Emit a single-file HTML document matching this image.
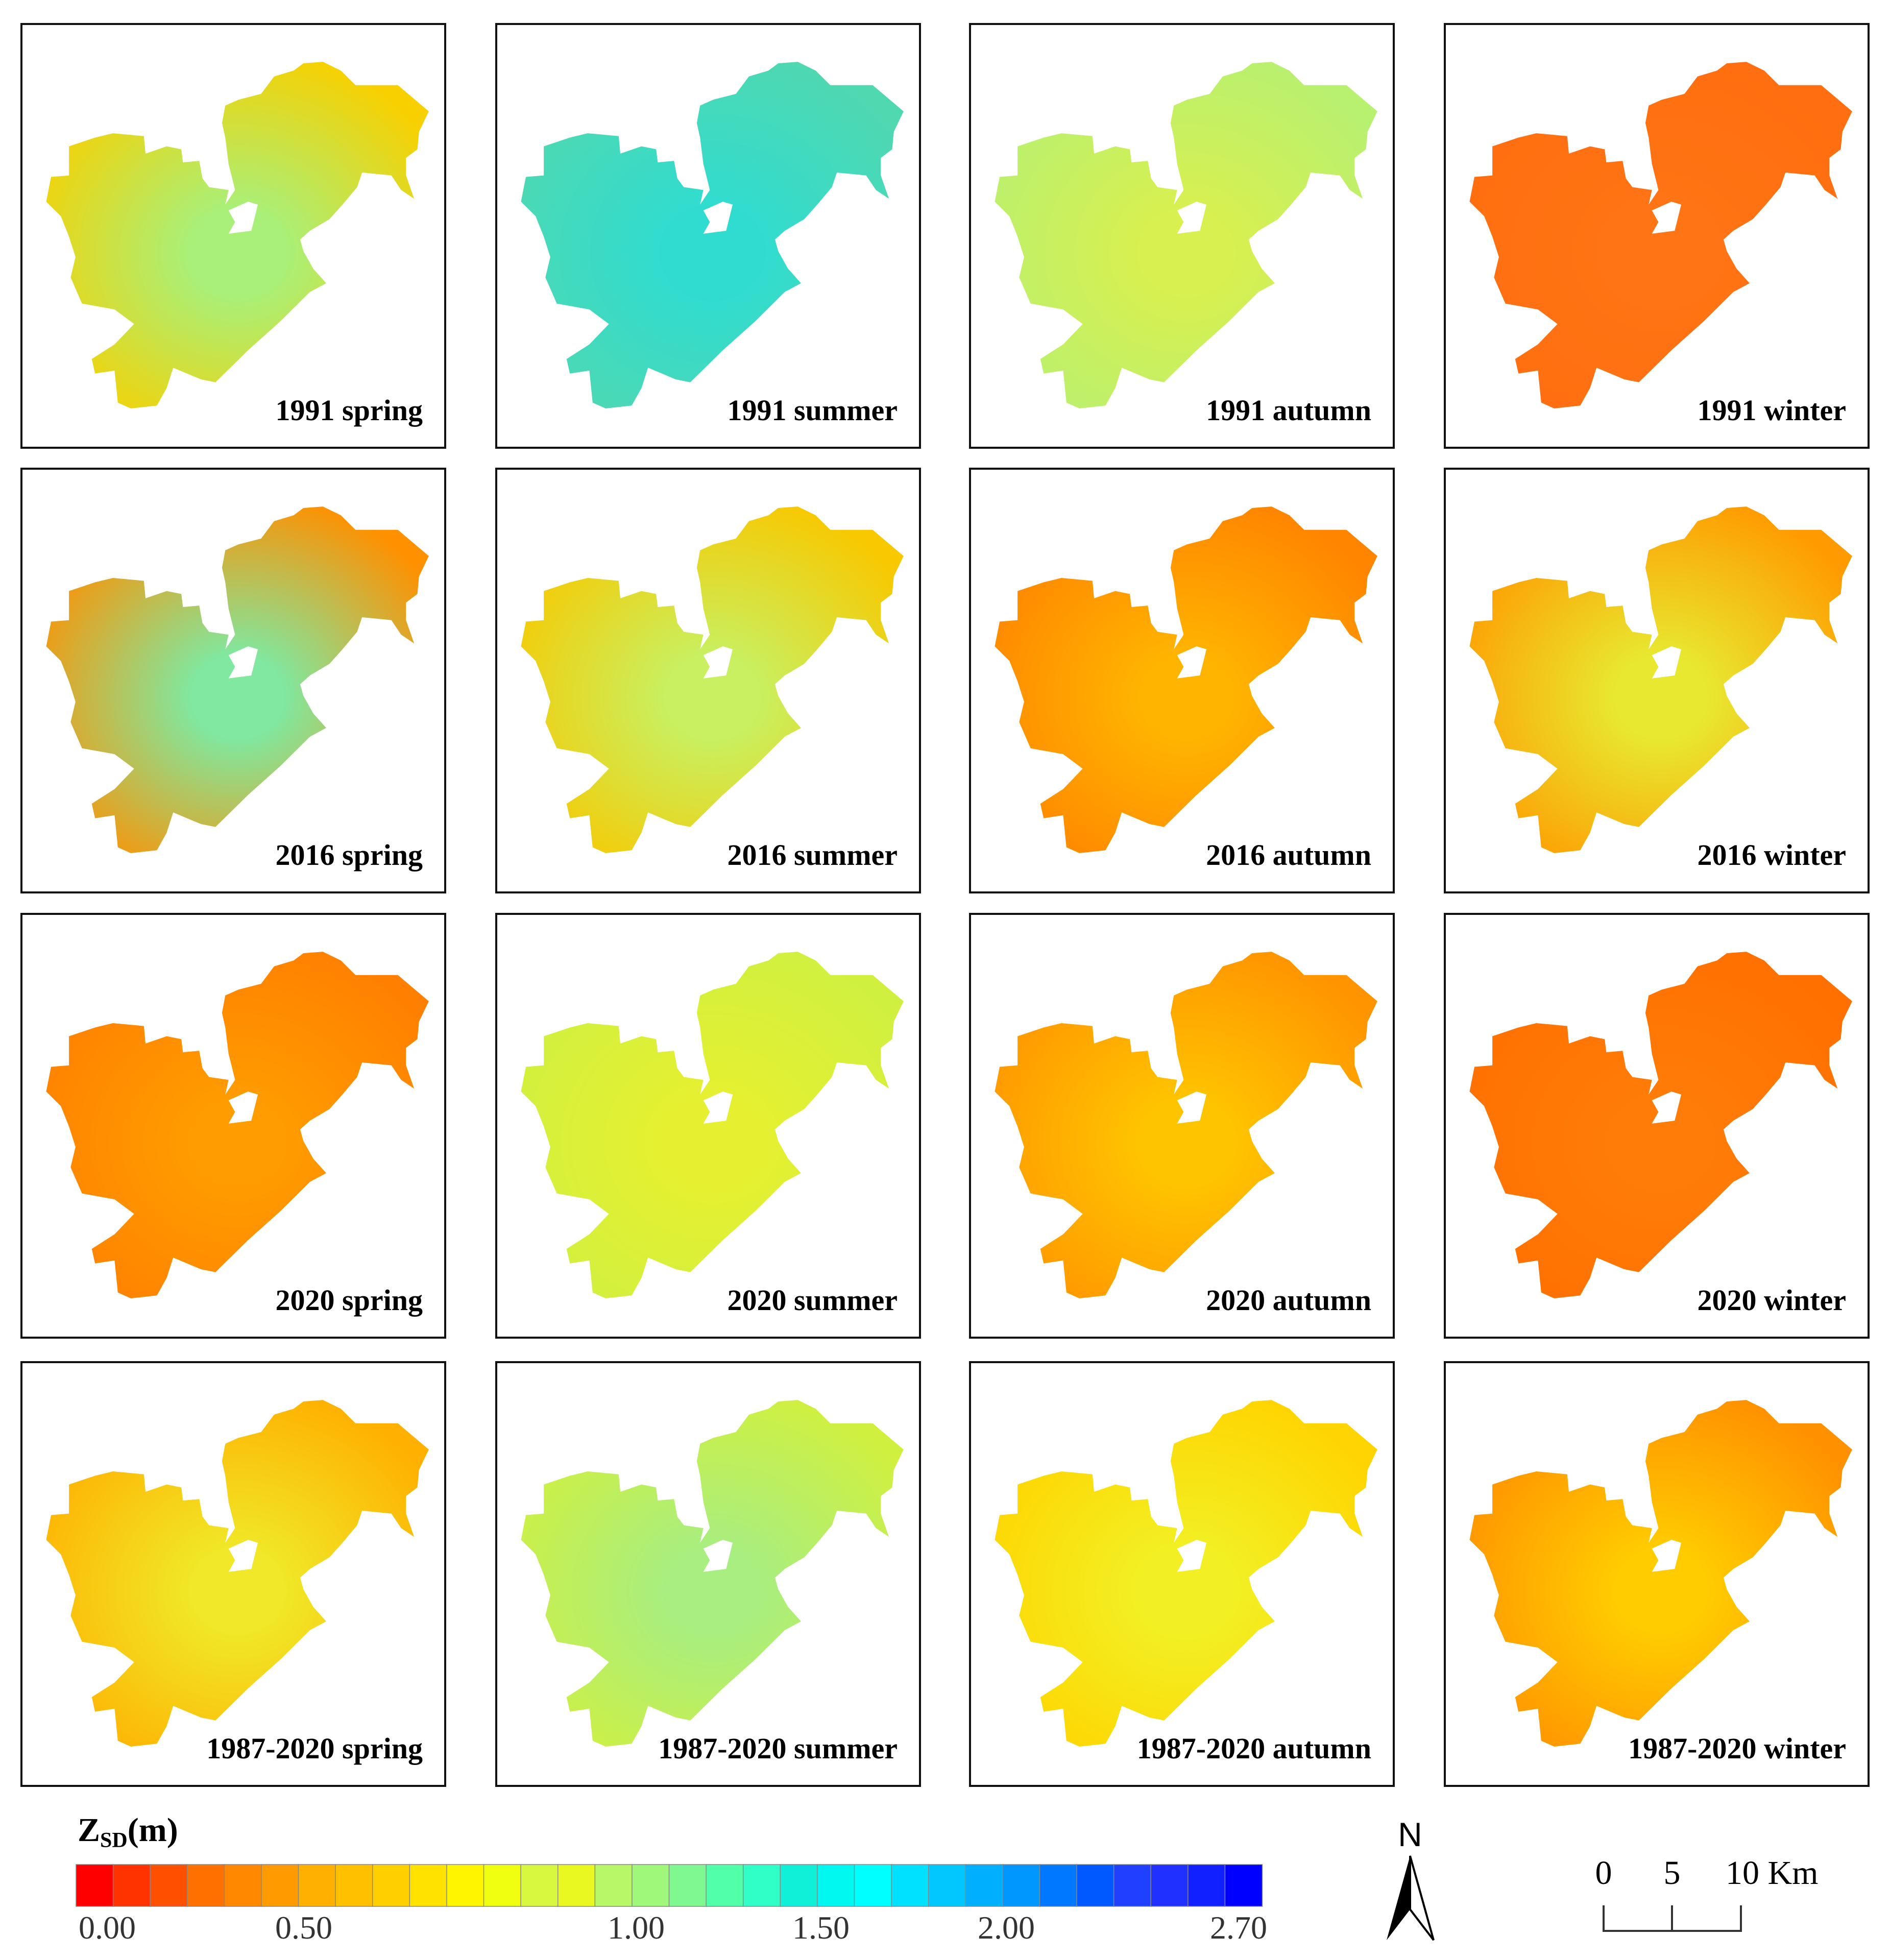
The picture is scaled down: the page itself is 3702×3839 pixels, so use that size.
<!DOCTYPE html>
<html><head><meta charset="utf-8">
<style>
html,body{margin:0;padding:0;background:#fff;}
body{width:3702px;height:3839px;overflow:hidden;position:relative;font-family:"Liberation Serif",serif;}
svg{position:absolute;left:0;top:0;}
</style></head>
<body>
<svg id="fig" width="3702" height="3839" viewBox="0 0 3702 3839">
<defs id="defs"></defs>
<g id="panels"></g>
<g id="legend"></g>
<g>
  <text x="2762" y="3616" font-size="66" text-anchor="middle" font-family="Liberation Sans, sans-serif">N</text>
  <polygon points="2762,3635 2716,3800 2762,3740" fill="#000"/>
  <polygon points="2762,3635 2808,3800 2762,3740" fill="#fff" stroke="#000" stroke-width="4"/>
</g>
<g font-size="66">
  <text x="3141" y="3690" text-anchor="middle">0</text>
  <text x="3275" y="3690" text-anchor="middle">5</text>
  <text x="3380" y="3690">10 Km</text>
  <path d="M3141 3732 V3782 H3410 V3732 M3275 3732 V3782" fill="none" stroke="#333" stroke-width="4"/>
</g>
</svg>
<script>
const NS="http://www.w3.org/2000/svg";
// panel data
const panelLabels=["1991 spring","1991 summer","1991 autumn","1991 winter",
"2016 spring","2016 summer","2016 autumn","2016 winter",
"2020 spring","2020 summer","2020 autumn","2020 winter",
"1987-2020 spring","1987-2020 summer","1987-2020 autumn","1987-2020 winter"];
const panelCenterColors=["#a8f07a","#30dcd0","#d8f050","#ff7414",
"#80e8a0","#c8f060","#ffb400","#e8e830",
"#ff9c00","#e6f030","#ffc400","#ff7c08",
"#f0e828","#a8ee80","#f2f024","#ffcc00"];
const panelEdgeColors=["#f8d000","#50d8b0","#b8f070","#ff6e10",
"#ff9000","#f8c800","#ff8400","#ff9a00",
"#ff8000","#d0f040","#ff9400","#ff7000",
"#ffb000","#d0f040","#ffd400","#ff9000"];
const colX=[42,972,1900,2830];
const rowY=[47,918,1790,2668];
// colorbar data
const cbarColors=["#ff0000","#ff3300","#ff5000","#ff7000","#ff8800","#ff9b00","#ffb000","#ffc000","#ffd000","#ffe200","#fff500","#f0ff10","#d8f840","#e8f820","#b8f868","#a0f87a","#80f890","#50ffa8","#30ffc8","#10f0d8","#00f8f0","#00ffff","#00e0ff","#00c8ff","#00b0ff","#0098ff","#0078ff","#0058ff","#2040ff","#2030ff","#1020ff","#0000ff"];
const tickValues=[0,0.5,1.0,1.5,2.0,2.7];
const tickLabels=["0.00","0.50","1.00","1.50","2.00","2.70"];
const tickPx=[210,595,1246,1608,1971,2426];

const lakeD="M930 215 L990 210 L1045 240 L1090 290 L1220 290 L1315 380 L1285 450 L1280 510 L1245 540 L1245 600 L1270 680 L1230 650 L1200 600 L1110 590 L1095 640 L1050 700 L1010 750 L950 790 L920 820 L930 860 L960 920 L1000 970 L950 1000 L860 1100 L760 1200 L660 1310 L615 1300 L530 1260 L510 1330 L480 1390 L400 1400 L360 1380 L350 1270 L290 1280 L280 1230 L350 1180 L410 1110 L350 1060 L250 1040 L215 950 L230 880 L210 810 L185 740 L140 690 L155 605 L210 600 L210 500 L290 470 L345 455 L440 465 L445 525 L510 500 L555 510 L560 555 L610 550 L620 610 L640 640 L700 650 L690 700 L720 650 L700 560 L690 470 L680 420 L690 360 L730 340 L800 320 L840 260 L900 240 Z";
const holeD="M700 720 L760 690 L790 700 L770 790 L700 800 L720 760 Z";
const defs=document.getElementById('defs');
const pg=document.getElementById('panels');
panelLabels.forEach((lab,i)=>{
  const x=colX[i%4], y=rowY[Math.floor(i/4)];
  const gr=document.createElementNS(NS,'radialGradient');
  gr.setAttribute('id','g'+i);gr.setAttribute('cx','0.5');gr.setAttribute('cy','0.55');gr.setAttribute('r','0.6');
  gr.innerHTML=`<stop offset="0.2" stop-color="${panelCenterColors[i]}"/><stop offset="1" stop-color="${panelEdgeColors[i]}"/>`;
  defs.appendChild(gr);
  const g=document.createElementNS(NS,'g');
  g.setAttribute('transform',`translate(${x} ${y})`);
  
  
  g.innerHTML=`<rect x="0" y="0" width="830" height="830" fill="#fff" stroke="#111" stroke-width="4"/>
<g transform="scale(0.6378 0.5705) translate(-64 -80)"><path d="${lakeD}" fill="url(#g${i})"/><path d="${holeD}" fill="#fff"/></g>
<text x="786" y="776" font-size="58" font-weight="bold" text-anchor="end">${lab}</text>`;
  pg.appendChild(g);
});
const lg=document.getElementById('legend');
const t=document.createElementNS(NS,'text');
t.setAttribute('x','152');t.setAttribute('y','3606');t.setAttribute('font-size','66');t.setAttribute('font-weight','bold');


t.innerHTML='Z<tspan font-size="42" dy="12">SD</tspan><tspan dy="-12">(m)</tspan>';
lg.appendChild(t);
const x0=149,x1=2472,w=(x1-x0)/cbarColors.length;
cbarColors.forEach((c,i)=>{
  const r=document.createElementNS(NS,'rect');
  r.setAttribute('x',x0+i*w);r.setAttribute('y',3652);r.setAttribute('width',w+0.5);r.setAttribute('height',82);
  r.setAttribute('fill',c);r.setAttribute('stroke','#888');r.setAttribute('stroke-width','1.5');
  
  
  lg.appendChild(r);
});
tickLabels.forEach((s,i)=>{
  const tx=document.createElementNS(NS,'text');
  tx.setAttribute('x',tickPx[i]);tx.setAttribute('y',3797);tx.setAttribute('font-size','64');tx.setAttribute('text-anchor','middle');
  tx.setAttribute('fill','#333');
  tx.textContent=s;
  
  
  lg.appendChild(tx);
});
</script>
</body></html>
